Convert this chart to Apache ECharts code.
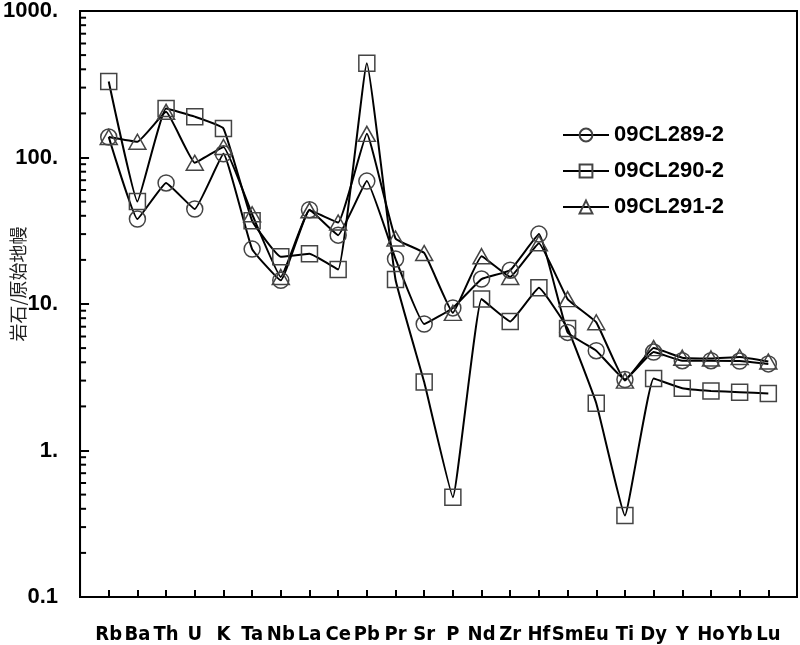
<!DOCTYPE html>
<html>
<head>
<meta charset="utf-8">
<title>Spider diagram</title>
<script src="https://cdn.jsdelivr.net/npm/echarts@6/dist/echarts.min.js"></script>
<style>
  html, body { margin: 0; padding: 0; background: #fff; }
  #chart { width: 800px; height: 645px; }
</style>
</head>
<body>
<div id="chart"></div>
<script>
  // elements, primitive mantle normalized
  const elements = ['Rb', 'Ba', 'Th', 'U', 'K', 'Ta', 'Nb', 'La', 'Ce', 'Pb', 'Pr', 'Sr',
    'P', 'Nd', 'Zr', 'Hf', 'Sm', 'Eu', 'Ti', 'Dy', 'Y', 'Ho', 'Yb', 'Lu'];

  const s289 = [138, 38, 67, 44.5, 106, 23.7, 14.5, 44, 29.5, 69, 20.3, 7.3,
    9.4, 14.8, 17, 30, 6.4, 4.8, 3.05, 4.7, 4.1, 4.1, 4.08, 3.9];
  const s290 = [330, 50, 216, 190, 158, 37, 21, 22, 17.2, 440, 14.7, 2.93,
    0.48, 10.8, 7.6, 12.9, 6.8, 2.1, 0.36, 3.1, 2.66, 2.55, 2.5, 2.45];
  const s291 = [138, 128, 205, 92, 118, 41, 15.3, 43.6, 36, 145, 28, 22.3,
    8.7, 21.2, 15.3, 26, 10.8, 7.5, 3.0, 5.0, 4.3, 4.25, 4.35, 4.05];

  const seriesNames = ['09CL289-2', '09CL290-2', '09CL291-2'];
  const seriesSymbols = ['circle', 'rect', 'triangle'];

  const yTickLabels = { 0.1: '0.1', 1: '1.', 10: '10.', 100: '100.', 1000: '1000.' };
  const minorSteps = [2, 3, 4, 5, 6, 7, 8, 9];
  const decades = [0.1, 1, 10, 100];

  const minorTicks = [];
  decades.forEach(d => minorSteps.forEach(m => minorTicks.push(+(d * m).toPrecision(3))));

  const chart = echarts.init(document.getElementById('chart'), null, { renderer: 'canvas' });

  const lineSeries = [s289, s290, s291].map((vals, k) => ({
    name: seriesNames[k],
    type: 'line',
    data: vals.map((v, i) => [i, v]),
    symbol: seriesSymbols[k],
    symbolSize: k === 2 ? [17, 15] : 16,
    smooth: 0.1,
    lineStyle: { color: '#000', width: 2 },
    itemStyle: { color: 'rgba(255,255,255,0)', borderColor: '#444', borderWidth: 1.5 },
    z: 3
  }));

  const option = {
    animation: false,
    backgroundColor: '#fff',
    grid: {
      left: 78, top: 9, right: 3, bottom: 48,
      show: true, borderColor: '#000', borderWidth: 2, backgroundColor: 'transparent'
    },
    legend: {
      orient: 'vertical',
      left: 562,
      top: 124,
      padding: 0,
      itemWidth: 46,
      itemHeight: 16,
      itemGap: 14,
      textStyle: { fontFamily: '"Liberation Sans", Arial, sans-serif', fontWeight: 'bold', fontSize: 22, color: '#000' },
      data: seriesNames
    },
    xAxis: {
      type: 'value',
      min: -1,
      max: 24,
      interval: 1,
      axisLine: { onZero: false, lineStyle: { color: '#000', width: 2 } },
      axisTick: { inside: true, length: 7, lineStyle: { color: '#000', width: 2 } },
      splitLine: { show: false },
      axisLabel: {
        margin: 28,
        fontFamily: '"Liberation Sans Narrow", "DejaVu Sans Condensed", sans-serif',
        fontWeight: 'bold',
        fontSize: 20,
        color: '#000',
        formatter: v => (Number.isInteger(v) && v >= 0 && v < elements.length) ? elements[v] : ''
      }
    },
    yAxis: {
      type: 'log',
      logBase: 10,
      min: 0.1,
      max: 1000,
      axisLine: { onZero: false, lineStyle: { color: '#000', width: 2 } },
      axisTick: { inside: true, length: 9, lineStyle: { color: '#000', width: 2 } },
      splitLine: { show: false },
      axisLabel: {
        margin: 22,
        fontFamily: '"Liberation Sans", Arial, sans-serif',
        fontWeight: 'bold',
        fontSize: 22,
        color: '#000',
        formatter: v => {
          const key = +(+v).toPrecision(3);
          return yTickLabels[key] !== undefined ? yTickLabels[key] : '';
        }
      }
    },
    graphic: [{
      type: 'text',
      x: 18,
      y: 284,
      rotation: Math.PI / 2,
      style: {
        text: '岩石/原始地幔',
        fontFamily: '"Noto Sans CJK SC", sans-serif',
        fontSize: 18,
        fill: '#222',
        textAlign: 'center',
        textVerticalAlign: 'middle'
      }
    }],
    series: [
      {
        name: 'minorTicks',
        type: 'custom',
        silent: true,
        data: minorTicks.map(v => [-1, v]),
        renderItem: (params, api) => {
          const p = api.coord([api.value(0), api.value(1)]);
          return {
            type: 'line',
            shape: { x1: p[0], y1: p[1], x2: p[0] + 6, y2: p[1] },
            style: { stroke: '#000', lineWidth: 2 }
          };
        },
        z: 4
      },
      ...lineSeries
    ]
  };

  chart.setOption(option);
</script>
</body>
</html>
